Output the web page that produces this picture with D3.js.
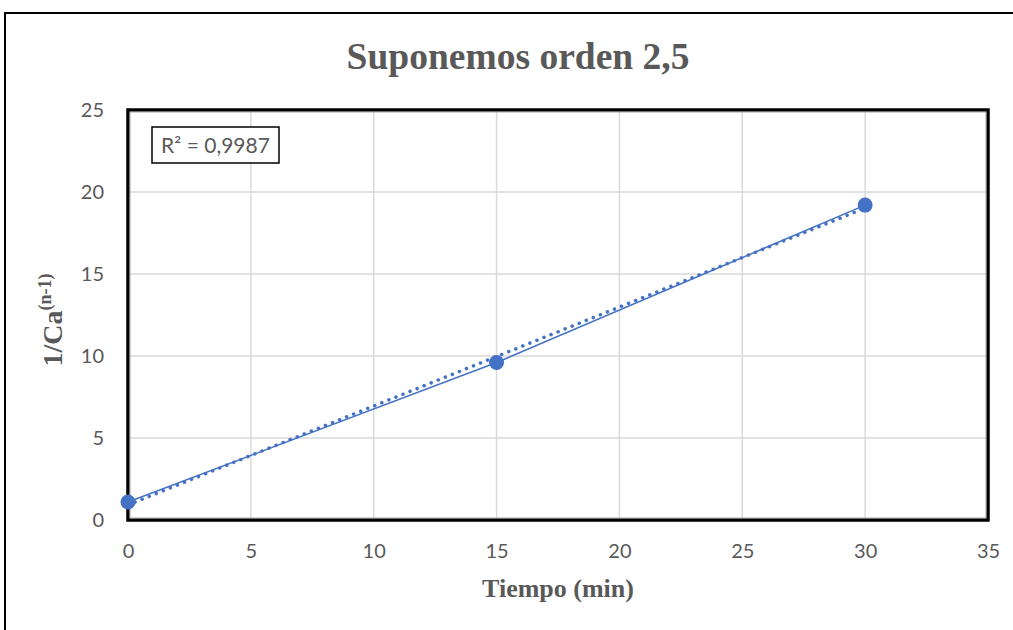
<!DOCTYPE html>
<html lang="es">
<head>
<meta charset="UTF-8">
<title>Suponemos orden 2,5</title>
<script src="https://cdn.jsdelivr.net/npm/d3@7"></script>
<style>
  body { margin: 0; background: #fff; }
  .tick text { font-family: Lato, "Open Sans", sans-serif; font-size: 20px; fill: #595959; }
</style>
</head>
<body>
<div id="chart"></div>
<script>
    // data
    const tiempo = [0, 15, 30];
    const invCa = [1.1, 9.6, 19.2];
    const xTicks = [0, 5, 10, 15, 20, 25, 30, 35];
    const yTicks = [0, 5, 10, 15, 20, 25];
    const r2Label = "R² = 0,9987";

    const width = 1013, height = 630;
    const margin = {left: 128, right: 25, top: 110, bottom: 110};

    const x = d3.scaleLinear().domain([0, 35]).range([margin.left, width - margin.right]);
    const y = d3.scaleLinear().domain([0, 25]).range([height - margin.bottom, margin.top]);

    const svg = d3.select("#chart").append("svg")
        .attr("width", width).attr("height", height);

    // outer chart border
    svg.append("rect")
        .attr("x", 5).attr("y", 13)
        .attr("width", width + 20).attr("height", height + 20)
        .attr("fill", "none").attr("stroke", "#000").attr("stroke-width", 2);

    // gridlines
    svg.append("g")
        .selectAll("line")
        .data(xTicks)
        .join("line")
        .attr("x1", d => x(d)).attr("x2", d => x(d))
        .attr("y1", y(0)).attr("y2", y(25))
        .attr("stroke", "#d9d9d9").attr("stroke-width", 1.5);
    svg.append("g")
        .selectAll("line")
        .data(yTicks)
        .join("line")
        .attr("x1", x(0)).attr("x2", x(35))
        .attr("y1", d => y(d)).attr("y2", d => y(d))
        .attr("stroke", "#d9d9d9").attr("stroke-width", 1.5);

    // plot area frame (thick black with grey inner line)
    const pw = x(35) - x(0), ph = y(0) - y(25);
    svg.append("rect")
        .attr("x", x(0)).attr("y", y(25)).attr("width", pw).attr("height", ph)
        .attr("fill", "none").attr("stroke", "#000").attr("stroke-width", 3.5);
    svg.append("rect")
        .attr("x", x(0) + 2).attr("y", y(25) + 2).attr("width", pw - 4).attr("height", ph - 4)
        .attr("fill", "none").attr("stroke", "#a6a6a6").attr("stroke-width", 1);

    // axes (labels only)
    const gx = svg.append("g")
        .attr("transform", `translate(0,${y(0)})`)
        .call(d3.axisBottom(x).tickValues(xTicks).tickSize(0).tickPadding(24));
    gx.select(".domain").remove();

    const gy = svg.append("g")
        .attr("transform", `translate(${x(0)},0)`)
        .call(d3.axisLeft(y).tickValues(yTicks).tickSize(0).tickPadding(24));
    gy.select(".domain").remove();

    // linear trendline from the data
    const mx = d3.mean(tiempo), my = d3.mean(invCa);
    const slope = d3.sum(tiempo, (t, i) => (t - mx) * (invCa[i] - my)) / d3.sum(tiempo, t => (t - mx) ** 2);
    const icpt = my - slope * mx;
    const tExt = d3.extent(tiempo);

    svg.append("line")
        .attr("x1", x(tExt[0])).attr("y1", y(icpt + slope * tExt[0]))
        .attr("x2", x(tExt[1])).attr("y2", y(icpt + slope * tExt[1]))
        .attr("stroke", "#4472c4").attr("stroke-width", 3.5)
        .attr("stroke-linecap", "round").attr("stroke-dasharray", "0.1 7.5");

    // series line + markers
    const line = d3.line().x((d, i) => x(tiempo[i])).y(d => y(d));
    svg.append("path")
        .datum(invCa)
        .attr("d", line)
        .attr("fill", "none").attr("stroke", "#4472c4").attr("stroke-width", 1.5);

    svg.append("g")
        .selectAll("circle")
        .data(invCa)
        .join("circle")
        .attr("cx", (d, i) => x(tiempo[i]))
        .attr("cy", d => y(d))
        .attr("r", 7.5)
        .attr("fill", "#4472c4");

    // R² box
    const rg = svg.append("g").attr("transform", "translate(152,127)");
    rg.append("rect").attr("width", 127).attr("height", 36)
        .attr("fill", "#fff").attr("stroke", "#000").attr("stroke-width", 1.5);
    rg.append("text").attr("x", 63.5).attr("y", 26)
        .attr("text-anchor", "middle")
        .attr("font-family", "Lato, 'Open Sans', sans-serif").attr("font-size", 21)
        .attr("fill", "#595959").text(r2Label);

    // titles
    svg.append("text")
        .attr("x", 518).attr("y", 69)
        .attr("text-anchor", "middle")
        .attr("font-family", "'Liberation Serif', 'Times New Roman', serif")
        .attr("font-weight", "bold").attr("font-size", 37.5)
        .attr("fill", "#595959").text("Suponemos orden 2,5");

    svg.append("text")
        .attr("x", 558).attr("y", 597)
        .attr("text-anchor", "middle")
        .attr("font-family", "'Liberation Serif', 'Times New Roman', serif")
        .attr("font-weight", "bold").attr("font-size", 26)
        .attr("fill", "#595959").text("Tiempo (min)");

    const yt = svg.append("text")
        .attr("transform", `translate(62,320) rotate(-90)`)
        .attr("text-anchor", "middle")
        .attr("font-family", "'Liberation Serif', 'Times New Roman', serif")
        .attr("font-weight", "bold").attr("font-size", 28)
        .attr("fill", "#595959");
    yt.append("tspan").text("1/Ca");
    yt.append("tspan").attr("font-size", 18).attr("dy", -11).text("(n-1)");
</script>
</body>
</html>
